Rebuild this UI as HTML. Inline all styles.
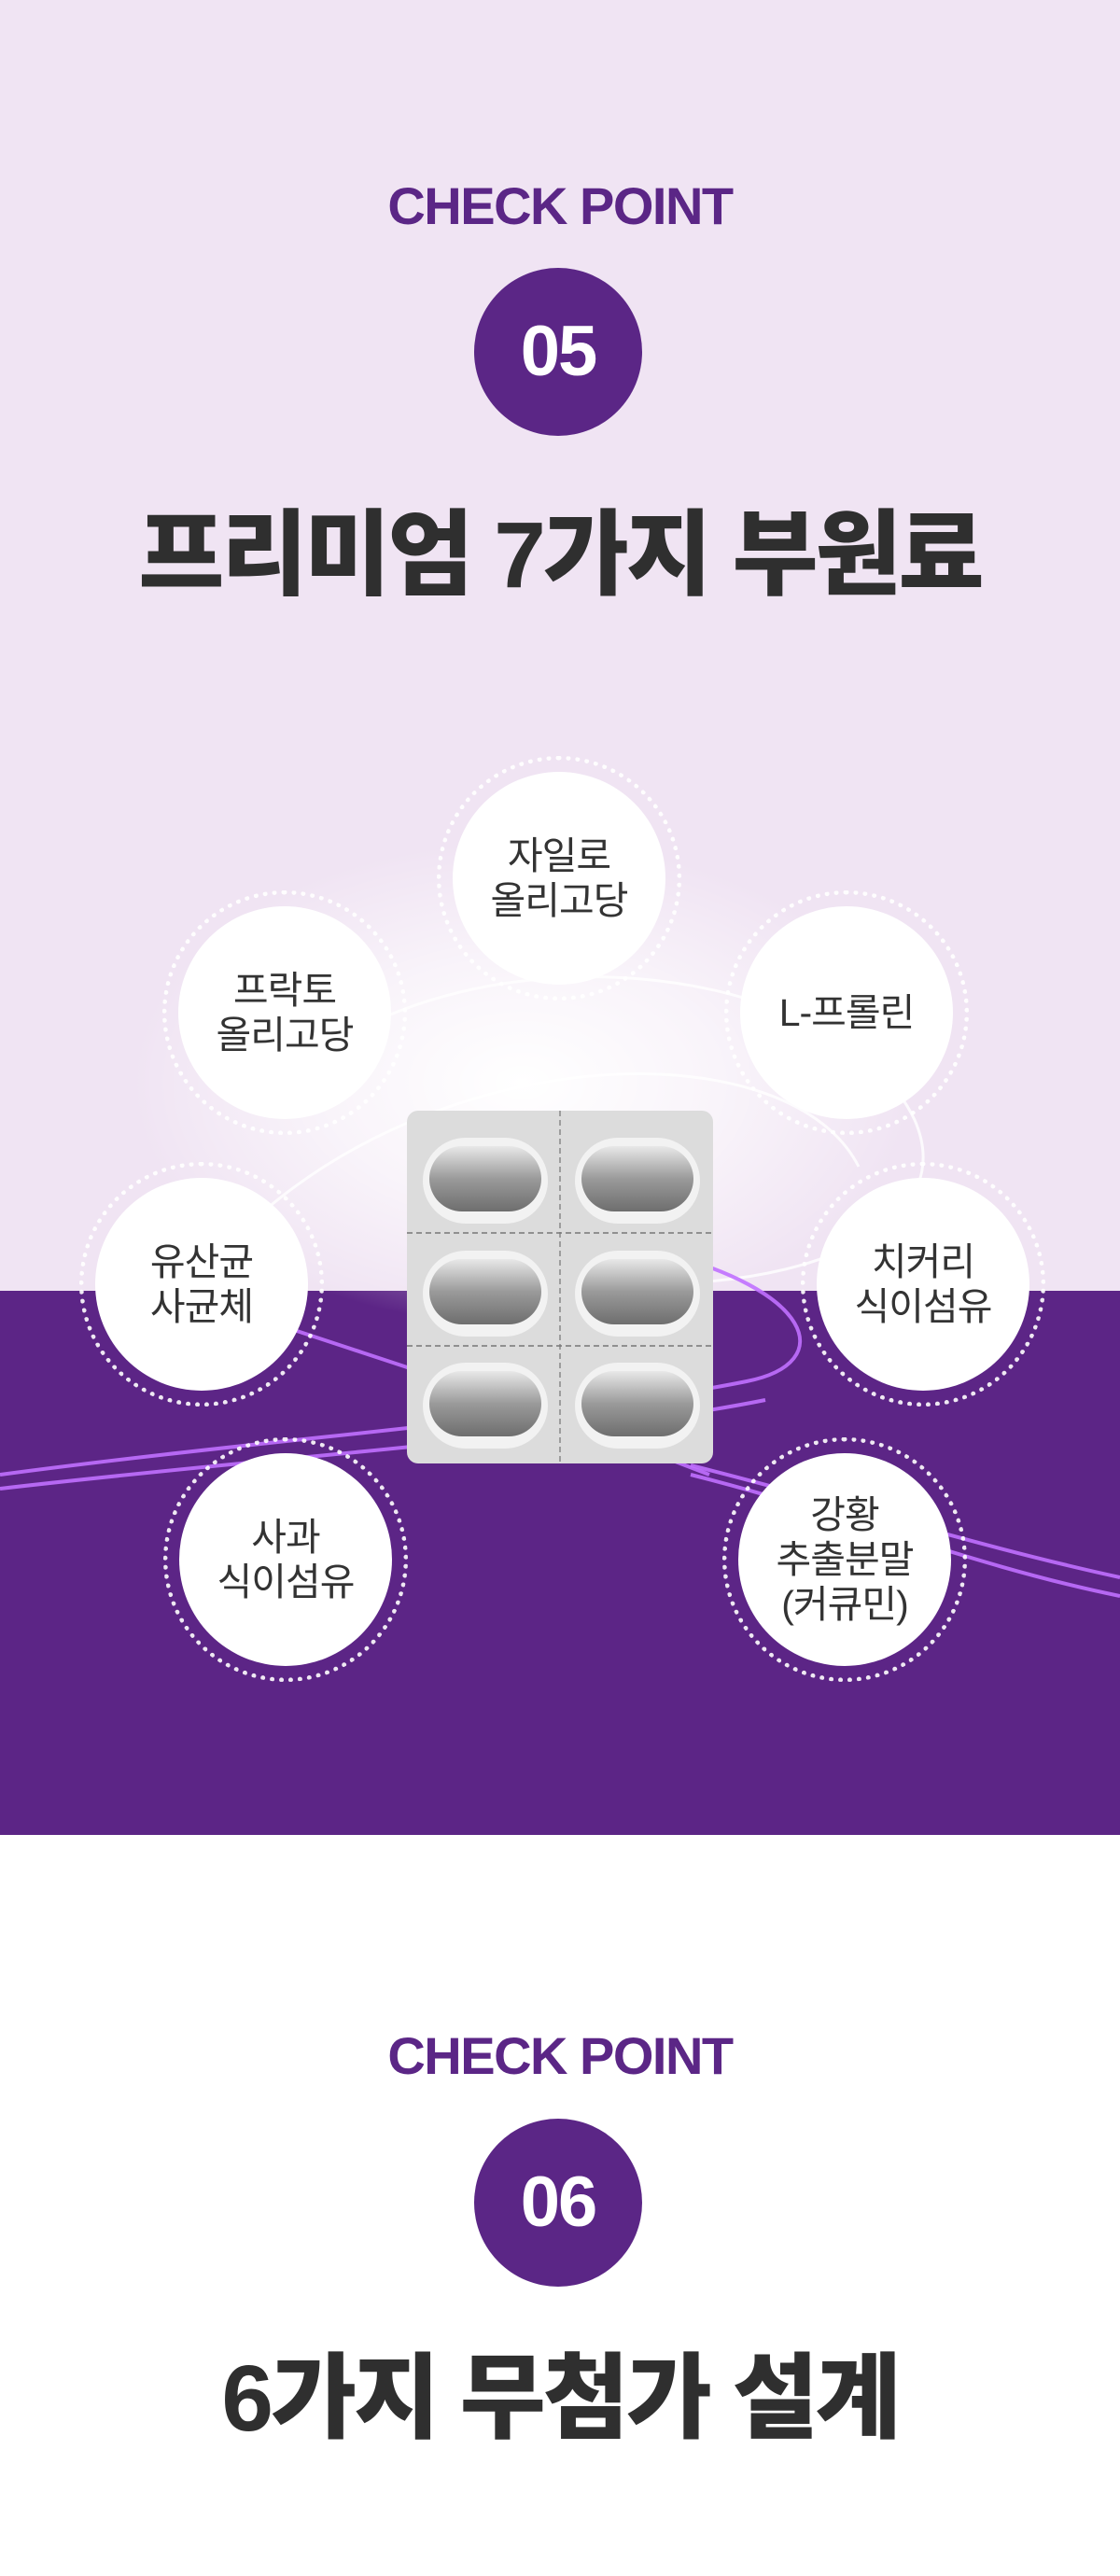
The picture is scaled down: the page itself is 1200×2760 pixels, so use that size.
<!DOCTYPE html>
<html><head><meta charset="utf-8"><style>
*{margin:0;padding:0;box-sizing:border-box}
body{width:1200px;height:2760px;position:relative;overflow:hidden;background:#fff;font-family:"Liberation Sans","Noto Sans CJK KR",sans-serif}
.abs{position:absolute}
.cp{left:0;width:1200px;text-align:center;color:#5b2686;font-weight:bold;font-size:56px;letter-spacing:-1.5px}
.num{width:180px;height:180px;border-radius:50%;background:#5b2686;color:#fff;font-weight:bold;font-size:76px;line-height:180px;text-align:center;letter-spacing:-2px}
.title{left:0;width:1200px;text-align:center;color:#2f2f2f;font-weight:900;font-size:100px;letter-spacing:-3px}
.c{position:absolute;width:228px;height:228px;border-radius:50%;background:#fff;display:flex;align-items:center;justify-content:center;text-align:center;color:#333;font-size:41px;line-height:48px;letter-spacing:-1px}
.ring{position:absolute;width:262px;height:262px;border-radius:50%;border:5px dotted rgba(255,255,255,.9)}
</style></head><body>
<div class="abs" style="left:0;top:0;width:1200px;height:1383px;background:#f0e4f3"></div>
<div class="abs" style="left:0;top:1383px;width:1200px;height:583px;background:#5c2586"></div>
<svg class="abs" style="left:0;top:780px" width="1200" height="1186">
<defs><radialGradient id="g" cx="0.5" cy="0.5" r="0.5"><stop offset="0" stop-color="#fff" stop-opacity="1"/><stop offset="0.5" stop-color="#fff" stop-opacity=".6"/><stop offset="1" stop-color="#fff" stop-opacity="0"/></radialGradient></defs>
<ellipse cx="560" cy="380" rx="420" ry="260" fill="url(#g)"/>
<g fill="none" stroke="#fff" stroke-opacity=".8" stroke-width="3">
<path d="M300 380 C500 200 900 250 980 420 C1050 580 700 640 500 560"/>
<path d="M280 520 C500 330 850 330 920 470"/>
</g>
<g fill="none" stroke="#c070ff" stroke-width="4" stroke-opacity=".9">
<path d="M0 800 C300 760 600 740 800 700 C900 680 870 600 700 560"/>
<path d="M0 815 C300 780 620 760 820 720"/>
<path d="M740 800 C900 840 1050 900 1200 930"/>
<path d="M740 790 C900 830 1060 880 1200 910"/>
<path d="M300 640 C450 690 580 730 760 800"/>
</g>
</svg>
<div class="abs cp" style="top:188px">CHECK POINT</div>
<div class="abs num" style="left:508px;top:287px">05</div>
<div class="abs title" style="top:513px">프리미엄 7가지 부원료</div>

<div class="ring" style="left:468px;top:810px"></div><div class="c" style="left:485px;top:827px">자일로<br>올리고당</div>
<div class="ring" style="left:174px;top:954px"></div><div class="c" style="left:191px;top:971px">프락토<br>올리고당</div>
<div class="ring" style="left:776px;top:954px"></div><div class="c" style="left:793px;top:971px">L-프롤린</div>
<div class="ring" style="left:85px;top:1245px"></div><div class="c" style="left:102px;top:1262px">유산균<br>사균체</div>
<div class="ring" style="left:858px;top:1245px"></div><div class="c" style="left:875px;top:1262px">치커리<br>식이섬유</div>
<div class="ring" style="left:175px;top:1540px"></div><div class="c" style="left:192px;top:1557px">사과<br>식이섬유</div>
<div class="ring" style="left:774px;top:1540px"></div><div class="c" style="left:791px;top:1557px">강황<br>추출분말<br>(커큐민)</div>

<svg class="abs" style="left:436px;top:1190px" width="328" height="378">
<defs><linearGradient id="p" x1="0" y1="0" x2="0" y2="1"><stop offset="0" stop-color="#e8e8e8"/><stop offset=".5" stop-color="#9a9a9a"/><stop offset="1" stop-color="#6e6e6e"/></linearGradient></defs>
<rect x="0" y="0" width="328" height="378" rx="12" fill="#dcdcdc"/>
<line x1="164" y1="0" x2="164" y2="378" stroke="#888" stroke-dasharray="6 4" stroke-width="1.5"/>
<line x1="0" y1="131" x2="328" y2="131" stroke="#777" stroke-dasharray="6 4" stroke-width="1.5"/>
<line x1="0" y1="252" x2="328" y2="252" stroke="#777" stroke-dasharray="6 4" stroke-width="1.5"/>
<g>
<rect x="17" y="29" width="134" height="92" rx="46" fill="#f2f2f2"/><rect x="24" y="38" width="120" height="70" rx="35" fill="url(#p)"/>
<rect x="180" y="29" width="134" height="92" rx="46" fill="#f2f2f2"/><rect x="187" y="38" width="120" height="70" rx="35" fill="url(#p)"/>
<rect x="17" y="150" width="134" height="92" rx="46" fill="#f2f2f2"/><rect x="24" y="159" width="120" height="70" rx="35" fill="url(#p)"/>
<rect x="180" y="150" width="134" height="92" rx="46" fill="#f2f2f2"/><rect x="187" y="159" width="120" height="70" rx="35" fill="url(#p)"/>
<rect x="17" y="270" width="134" height="92" rx="46" fill="#f2f2f2"/><rect x="24" y="279" width="120" height="70" rx="35" fill="url(#p)"/>
<rect x="180" y="270" width="134" height="92" rx="46" fill="#f2f2f2"/><rect x="187" y="279" width="120" height="70" rx="35" fill="url(#p)"/>
</g>
</svg>

<div class="abs cp" style="top:2170px">CHECK POINT</div>
<div class="abs num" style="left:508px;top:2270px">06</div>
<div class="abs title" style="top:2488px">6가지 무첨가 설계</div>
</body></html>
